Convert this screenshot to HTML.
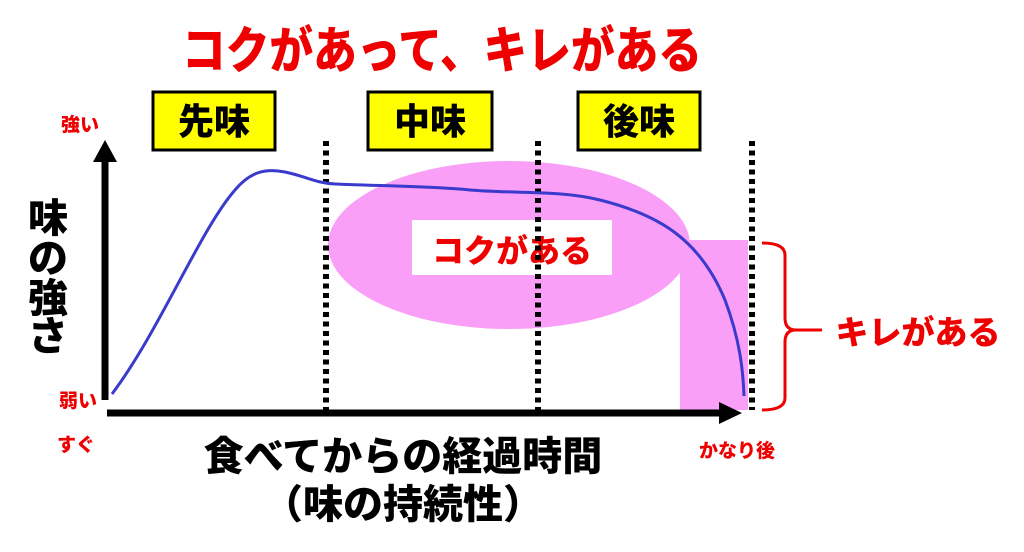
<!DOCTYPE html>
<html><head><meta charset="utf-8"><style>
html,body{margin:0;padding:0;background:#fff;width:1024px;height:552px;overflow:hidden}
text{font-family:"Liberation Sans","Noto Sans CJK JP",sans-serif;font-weight:900}
</style></head><body>
<svg width="1024" height="552" viewBox="0 0 1024 552" xmlns="http://www.w3.org/2000/svg">
<ellipse cx="509" cy="245" rx="181" ry="84" fill="#f99ff7"/>
<rect x="680" y="240" width="68" height="170" fill="#f99ff7"/>
<rect x="412" y="220" width="200" height="55" fill="#fff"/>
<text x="512" y="262" font-size="32" fill="#e00" text-anchor="middle">コクがある</text>
<g stroke="#000" stroke-width="6" stroke-dasharray="5,4.5">
<line x1="326" y1="141" x2="326" y2="410"/>
<line x1="538" y1="141" x2="538" y2="410"/>
<line x1="752" y1="141" x2="752" y2="410"/>
</g>
<line x1="105" y1="400" x2="105" y2="158" stroke="#000" stroke-width="7"/>
<polygon points="105,140 93,162 117,162" fill="#000"/>
<line x1="107" y1="413" x2="722" y2="413" stroke="#000" stroke-width="7"/>
<polygon points="742,413 719,402 719,424" fill="#000"/>
<path d="M112,394 C160,330 200,230 235,190 C250,172 265,168 285,172 C305,176 315,183 335,184 C380,186 430,186 470,190 C520,194 560,190 600,200 C660,215 700,240 725,300 C740,340 743,370 744,396" fill="none" stroke="#3a3acc" stroke-width="3"/>
<path d="M762,243 Q785,243 785,255 L785,318 Q785,330 796,330 L822,330 M796,330 Q785,330 785,342 L785,398 Q785,410 762,410" fill="none" stroke="#e00" stroke-width="3"/>
<text x="918" y="344" font-size="33" fill="#e00" text-anchor="middle">キレがある</text>
<text x="182" y="68" font-size="50" fill="#e00" textLength="520" lengthAdjust="spacingAndGlyphs">コクがあって、キレがある</text>
<g stroke="#000" stroke-width="3" fill="#ffff00">
<rect x="153" y="92" width="122" height="58"/>
<rect x="368" y="92" width="124" height="58"/>
<rect x="578" y="92" width="122" height="58"/>
</g>
<g font-size="36" fill="#000" text-anchor="middle">
<text x="214" y="134">先味</text>
<text x="430" y="134">中味</text>
<text x="639" y="134">後味</text>
</g>
<g font-size="19" fill="#e00" text-anchor="middle">
<text x="80" y="131">強い</text>
<text x="78" y="407">弱い</text>
<text x="76" y="451">すぐ</text>
<text x="737" y="457">かなり後</text>
</g>
<g font-size="40" fill="#000" text-anchor="middle">
<text x="48" y="232">味</text>
<text x="48" y="272">の</text>
<text x="48" y="312">強</text>
<text x="48" y="350">さ</text>
<text x="403" y="470">食べてからの経過時間</text>
<text x="403" y="518">（味の持続性）</text>
</g>
</svg>
</body></html>
